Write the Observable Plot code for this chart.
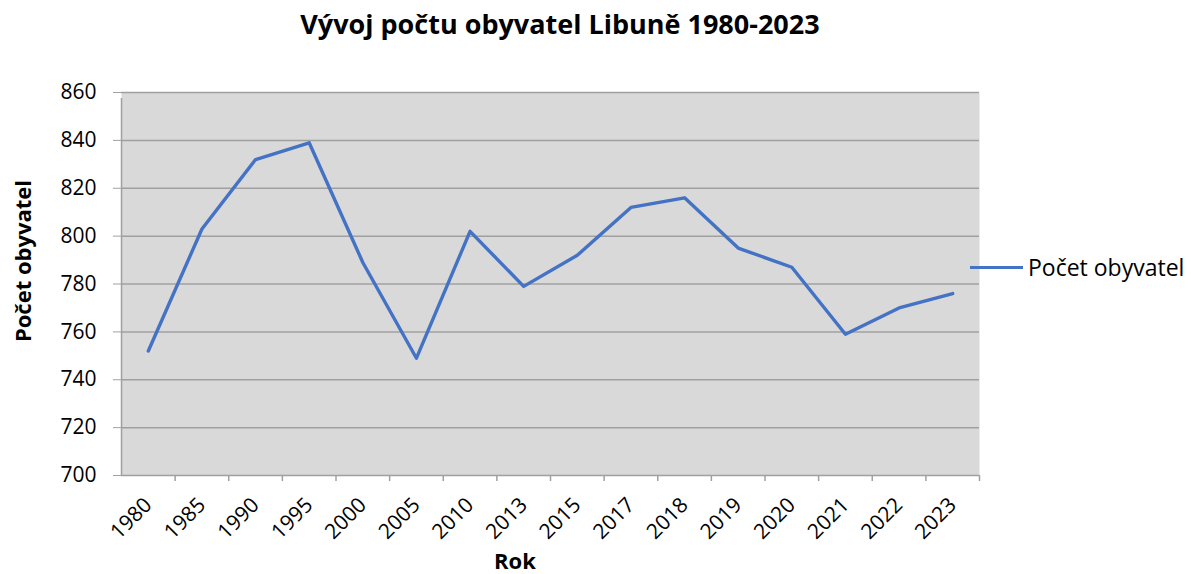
<!DOCTYPE html>
<html>
<head>
<meta charset="utf-8">
<script src="https://cdn.jsdelivr.net/npm/d3@7"></script>
<script src="https://cdn.jsdelivr.net/npm/@observablehq/plot@0.6"></script>
<style>
  html, body { margin: 0; padding: 0; background: #fff; }
  #wrap { position: relative; width: 1191px; height: 574px; font-family: "Open Sans", sans-serif; color: #000; }
  #title { position: absolute; top: 5px; left: 0; width: 1120px; text-align: center; font-weight: bold; font-size: 27px; }
  #xlabel { position: absolute; top: 546px; left: 440px; width: 150px; text-align: center; font-weight: bold; font-size: 22px; line-height: 28px; }
  #ylabel { position: absolute; left: 22px; top: 261px; transform: translate(-50%, -50%) rotate(-90deg); font-weight: bold; font-size: 22px; white-space: nowrap; }
  #legend { position: absolute; left: 970px; top: 251px; height: 32px; display: flex; align-items: center; font-size: 23px; white-space: nowrap; }
  #legend .sw { width: 53px; height: 3px; background: #4472C4; margin-right: 5px; margin-top: 0px; }
  #chart { position: absolute; left: 0; top: 0; }
</style>
</head>
<body>
<div id="wrap">
  <div id="chart"></div>
  <div id="title">Vývoj počtu obyvatel Libuně 1980-2023</div>
  <div id="ylabel">Počet obyvatel</div>
  <div id="xlabel">Rok</div>
  <div id="legend"><div class="sw"></div><span>Počet obyvatel</span></div>
</div>
<script>
const years = ["1980","1985","1990","1995","2000","2005","2010","2013","2015","2017","2018","2019","2020","2021","2022","2023"];
const population = [752, 803, 832, 839, 789, 749, 802, 779, 792, 812, 816, 795, 787, 759, 770, 776];
const yTicks = [700, 720, 740, 760, 780, 800, 820, 840, 860];

const data = years.map((y, i) => ({year: y, pop: population[i]}));

const W = 1191, H = 574;
const mL = 121, mR = 212, mT = 92, mB = 99;
const step = (W - mL - mR) / years.length;
const grid = "#a0a0a0";

const plot = Plot.plot({
  width: W, height: H,
  marginTop: mT, marginLeft: mL, marginRight: mR, marginBottom: mB,
  style: {fontFamily: "Open Sans, sans-serif", fontSize: "20px", color: "#000", background: "transparent", overflow: "visible"},
  x: {type: "point", domain: years, padding: 0.5, round: false, label: null},
  y: {domain: [700, 860], label: null},
  marks: [
    Plot.frame({fill: "#d9d9d9", stroke: null}),
    Plot.gridY(yTicks, {stroke: grid, strokeOpacity: 1, strokeWidth: 1.5}),
    Plot.ruleX([years[0]], {x: d => d, y1: 700, y2: 860, dx: -step / 2, insetBottom: -6, stroke: grid, strokeWidth: 1.5}),
    Plot.ruleX(years.slice(1), {x: d => d, y1: 700, y2: 700, dx: -step / 2, insetBottom: -6, stroke: grid, strokeWidth: 1.5}),
    Plot.ruleX([years[years.length - 1]], {x: d => d, y1: 700, y2: 700, dx: step / 2, insetBottom: -6, stroke: grid, strokeWidth: 1.5}),
    Plot.axisY(yTicks, {tickSize: 8, tickPadding: 17, stroke: grid, fill: "#000", fontSize: 21, label: null}),
    Plot.axisX({tickSize: 0, tickRotate: -45, tickPadding: 26, fill: "#000", fontSize: 21, label: null}),
    Plot.line(data, {x: "year", y: "pop", stroke: "#4472C4", strokeWidth: 3.4, strokeLinejoin: "round"})
  ]
});
document.getElementById("chart").appendChild(plot);
</script>
</body>
</html>
